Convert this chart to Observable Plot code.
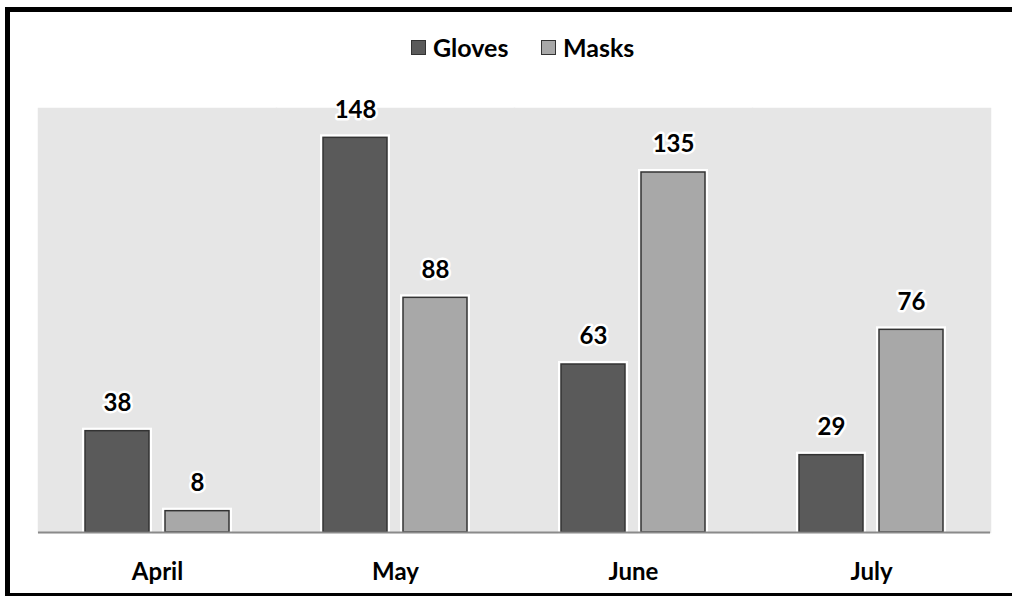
<!DOCTYPE html>
<html>
<head>
<meta charset="utf-8">
<script src="https://cdn.jsdelivr.net/npm/d3@7"></script>
<script src="https://cdn.jsdelivr.net/npm/@observablehq/plot@0.6"></script>
<style>
  html, body { margin: 0; padding: 0; background: #fff; }
  body { width: 1014px; height: 596px; position: relative; overflow: hidden; font-family: Lato, "Open Sans", sans-serif; }
  #frame {
    position: absolute; left: 5px; top: 7px;
    width: 1002px; height: 581px;
    border-left: 5px solid #000; border-top: 5px solid #000;
    border-bottom: 4px solid #000;
  }
  #legend { position: relative; height: 68px; }
  .item { position: absolute; top: 20px; display: flex; align-items: center; font-size: 25px; font-weight: bold; color: #000; }
  .sw { width: 13px; height: 13px; margin-right: 7px; border: 1px solid #333; }
  #chart svg text { font-weight: bold; }
</style>
</head>
<body>
<div id="frame">
  <div id="legend"></div>
  <div id="chart"></div>
</div>
<script>
const months = ["April", "May", "June", "July"];
const series = ["Gloves", "Masks"];
const gloves = [38, 148, 63, 29];
const masks = [8, 88, 135, 76];
const colors = ["#5a5a5a", "#a8a8a8"];

const data = months.flatMap((m, i) => [
  {month: m, series: "Gloves", value: gloves[i]},
  {month: m, series: "Masks", value: masks[i]}
]);

// legend
const legend = document.getElementById("legend");
const lefts = [401, 531];
series.forEach((s, i) => {
  const it = document.createElement("div");
  it.className = "item";
  it.style.left = lefts[i] + "px";
  const sw = document.createElement("span");
  sw.className = "sw";
  sw.style.background = colors[i];
  it.appendChild(sw);
  it.appendChild(document.createTextNode(s));
  legend.appendChild(it);
});

const chart = Plot.plot({
  width: 1002,
  height: 512,
  marginTop: 28,
  marginBottom: 60,
  marginLeft: 28,
  marginRight: 22,
  style: {fontFamily: "Lato, 'Open Sans', sans-serif", background: "transparent", overflow: "visible"},
  fx: {domain: months, padding: 0, label: null},
  x: {domain: series, paddingInner: 0.2, paddingOuter: 0.5875, axis: null},
  y: {domain: [0, 159], axis: null},
  color: {domain: series, range: colors},
  marks: [
    Plot.frame({fill: "#e6e6e6", stroke: "#e6e6e6", strokeWidth: 1.5}),
    Plot.barY(data, {fx: "month", x: "series", y: "value", fill: "white", stroke: "white", strokeWidth: 6}),
    Plot.barY(data, {fx: "month", x: "series", y: "value", fill: "series", stroke: "#333", strokeWidth: 1.5}),
    Plot.ruleY([0], {stroke: "#8a8a8a", strokeWidth: 2}),
    Plot.text(data, {
      fx: "month", x: "series", y: "value", text: d => String(d.value),
      dy: -28, lineAnchor: "middle", fontSize: 24, fontWeight: "bold",
      fill: "black", stroke: "white", strokeWidth: 5, paintOrder: "stroke"
    }),
    Plot.axisFx({anchor: "bottom", tickSize: 0, tickPadding: 30, fontSize: 24, fontWeight: "bold", fill: "black", label: null})
  ]
});
document.getElementById("chart").appendChild(chart);
</script>
</body>
</html>
